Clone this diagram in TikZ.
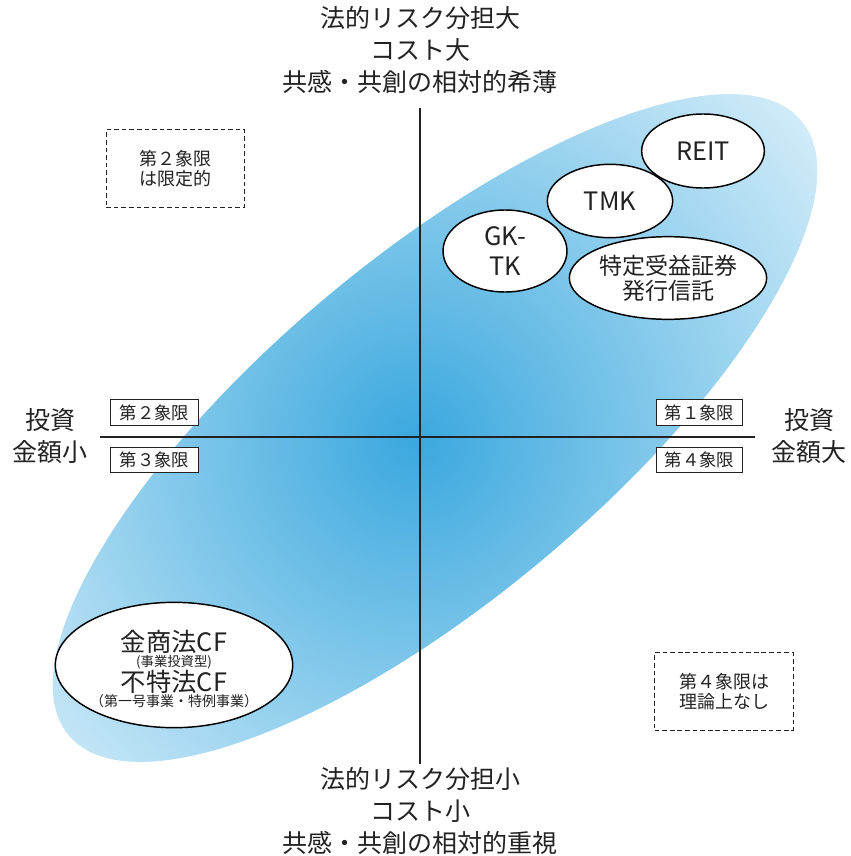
\documentclass[tikz,border=0pt]{standalone}
\usepackage{fontspec}
\setmainfont{Noto Sans CJK JP}
\usetikzlibrary{shapes.geometric}
\definecolor{bin}{RGB}{58,168,222}
\definecolor{bout}{RGB}{208,235,248}
\definecolor{ink}{RGB}{34,34,34}
\begin{document}
\begin{tikzpicture}[x=0.75pt,y=-0.75pt,
  bigtxt/.style={font=\fontsize{18.75pt}{24pt}\selectfont, text=ink, align=center, inner sep=0},
  qbox/.style={draw=ink, line width=0.9pt, fill=white, font=\fontsize{13pt}{15pt}\selectfont, text=ink, minimum width=66pt, minimum height=19pt, inner sep=0},
  dbox/.style={draw=ink, dash pattern=on 3.5pt off 2.2pt, line width=0.9pt, minimum width=104pt, minimum height=58pt, align=center, inner sep=0, font=\fontsize{13.5pt}{15pt}\selectfont, text=ink},
  oval/.style={ellipse, draw=black, line width=1.1pt, fill=white, inner sep=0, align=center, text=ink},
  axis/.style={draw=ink, line width=1.5pt}]
\useasboundingbox (0,0) rectangle (850,856);
% shaded ellipse
\begin{scope}
  \clip[rotate around={40:(435,428)}] (435,428) ellipse [x radius=478, y radius=170];
  \fill[bout] (0,0) rectangle (850,856);
  \shade[inner color=bin, outer color=bout] (415,440) circle [radius=500];
\end{scope}
% axes
\coordinate (axL) at (100,437);
\coordinate (axR) at (755,437);
\coordinate (axT) at (420,108);
\coordinate (axB) at (420,764);
\draw[axis] (axL) -- (axR);
\draw[axis] (axT) -- (axB);
% axis labels
\node[bigtxt] (top) at (420,50) {法的リスク分担大\\コスト大\\共感・共創の相対的希薄};
\node[bigtxt] (bot) at (420,811) {法的リスク分担小\\コスト小\\共感・共創の相対的重視};
\node[bigtxt] (left) at (50,436) {投資\\金額小};
\node[bigtxt] (right) at (809,436) {投資\\金額大};
% quadrant boxes
\node[qbox] (q2) at (154.5,412.5) {第２象限};
\node[qbox] (q3) at (154.5,460) {第３象限};
\node[qbox, minimum width=64pt] (q1) at (699.5,412.5) {第１象限};
\node[qbox, minimum width=64pt] (q4) at (699.5,460) {第４象限};
% dashed notes
\node[dbox] (n2) at (175.5,168.5) {第２象限\\は限定的};
\node[dbox] (n4) at (724,691.5) {第４象限は\\理論上なし};
% ovals
\node[oval, minimum width=92pt, minimum height=55.5pt, font=\fontsize{19pt}{22pt}\selectfont] (reit) at (703,151) {REIT};
\node[oval, minimum width=94pt, minimum height=55pt, font=\fontsize{19pt}{22pt}\selectfont] (tmk) at (610,201) {TMK};
\node[oval, minimum width=93pt, minimum height=61.5pt, font=\fontsize{19pt}{22.5pt}\selectfont] (gktk) at (505,251) {GK-\\TK};
\node[oval, minimum width=148pt, minimum height=62pt, font=\fontsize{17.25pt}{19pt}\selectfont] (tokutei) at (668,278) {特定受益証券\\発行信託};
\node[oval, minimum width=178pt, minimum height=94pt] (cf) at (174,665) {};
\node[text=ink, inner sep=0, font=\fontsize{19pt}{20pt}\selectfont] (cf1) at (174,642) {金商法CF};
\node[text=ink, inner sep=0, font=\fontsize{10pt}{10pt}\selectfont] (cf2) at (174,662) {(事業投資型)};
\node[text=ink, inner sep=0, font=\fontsize{19pt}{20pt}\selectfont] (cf3) at (174,682) {不特法CF};
\node[text=ink, inner sep=0, font=\fontsize{10.5pt}{11pt}\selectfont] (cf4) at (174,701) {（第一号事業・特例事業）};
\end{tikzpicture}
\end{document}
